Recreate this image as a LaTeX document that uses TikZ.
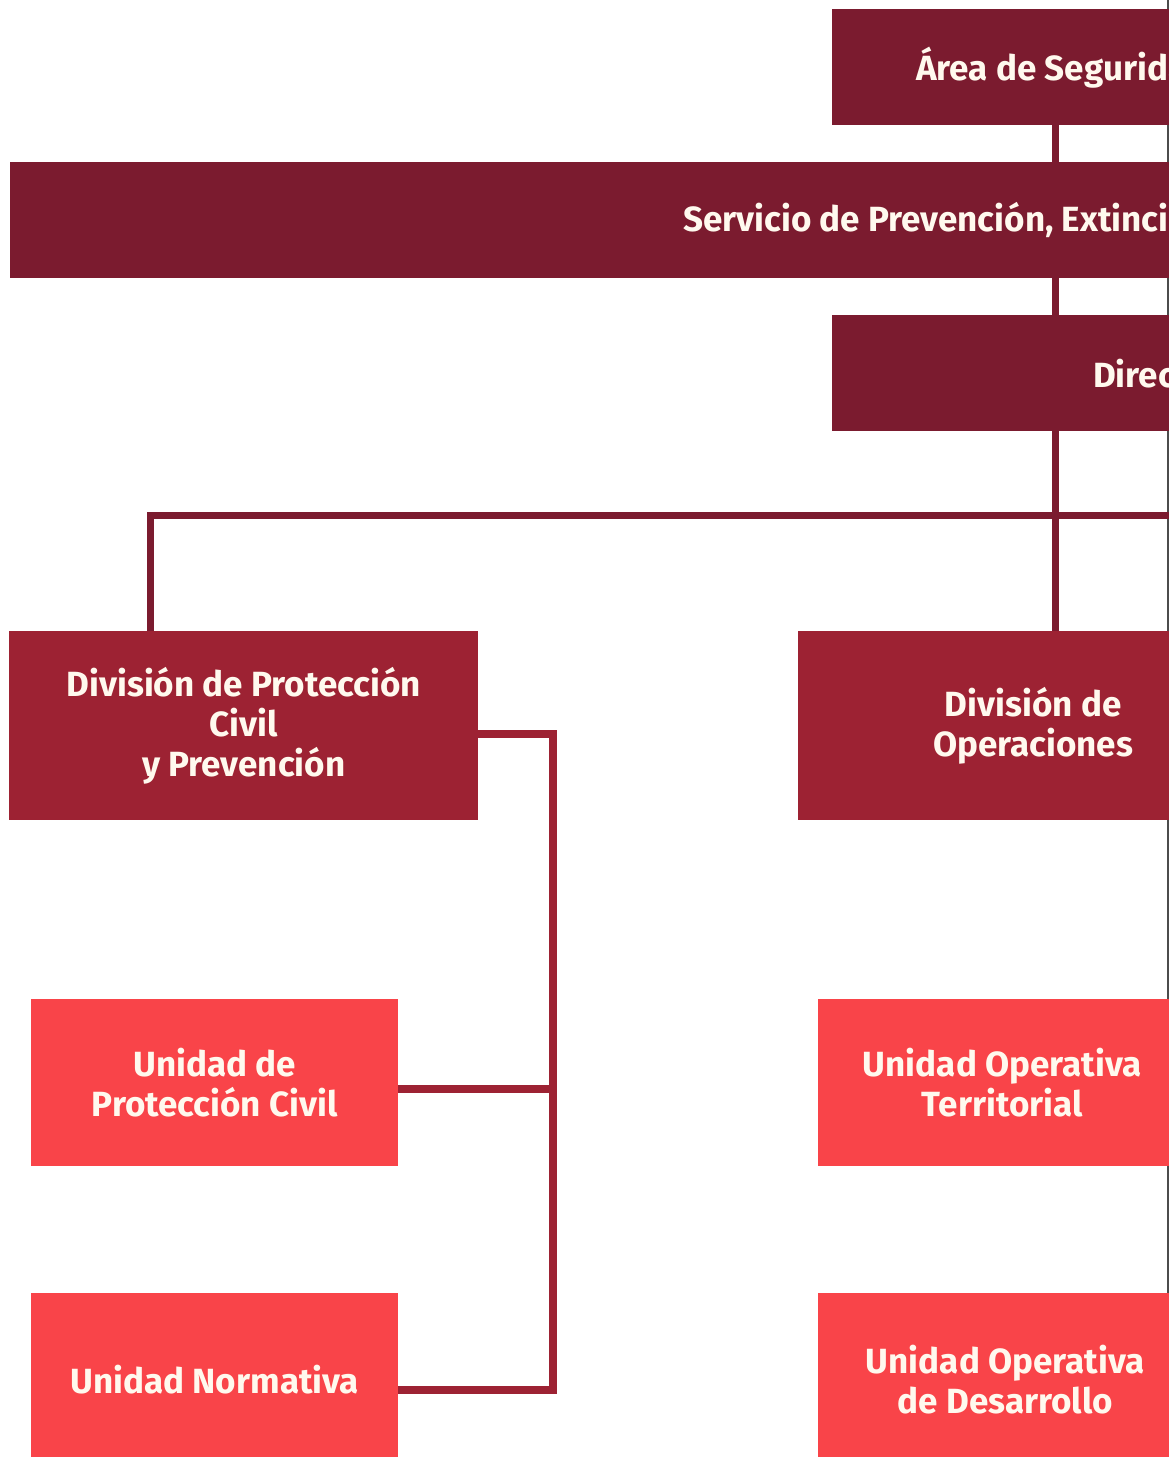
\documentclass[tikz,border=0pt]{standalone}
\usepackage{fontspec}
\setmainfont{Fira Sans}
\usetikzlibrary{positioning}
\definecolor{wine}{HTML}{7B1B2F}
\definecolor{claret}{HTML}{9D2233}
\definecolor{coral}{HTML}{F94449}
\definecolor{cream}{HTML}{FFF9EE}
\tikzset{
  box/.style={rectangle, anchor=north west, inner ysep=0pt, text=cream,
              font=\bfseries\fontsize{35}{40}\selectfont, align=center},
  topbox/.style={box, fill=wine, minimum height=116},
  divbox/.style={box, fill=claret, minimum width=469, minimum height=189},
  unitbox/.style={box, fill=coral, minimum width=367},
  link/.style={draw=wine, line width=7pt},
  sublink/.style={draw=claret, line width=8pt}
}
\begin{document}
\begin{tikzpicture}[x=1pt, y=-1pt]
      \useasboundingbox (0, 0) rectangle (1169, 1457);
      \clip (0, 0) rectangle (1169, 1457);
      \draw [gray!60!black, line width=1.5pt] (1167.8, 0) -- (1167.8, 1457);
      % top of the chart
      \node (area) [topbox, inner xsep=84]  at (832, 9)   {Área de Seguridad};
      \node (serv) [topbox, inner xsep=673] at (10, 162)  {Servicio de Prevención, Extinción};
      \node (dir)  [topbox, inner xsep=261] at (832, 315) {Dirección};
      % divisions
      \node (divpc) [divbox] at (9, 631)   {División de Protección\\Civil\\y Prevención};
      \node (divop) [divbox, minimum width=470] at (798, 631) {División de\\Operaciones};
      % units
      \node (upc)   [unitbox, minimum height=167] at (31, 999)   {Unidad de\\Protección Civil};
      \node (unorm) [unitbox, minimum height=172] at (31, 1293)  {Unidad Normativa};
      \node (uot)   [unitbox, minimum width=368, minimum height=167] at (818, 999)  {Unidad Operativa\\Territorial};
      \node (uod)   [unitbox, minimum width=374, minimum height=172] at (818, 1293) {Unidad Operativa\\de Desarrollo};
      % connectors
      \coordinate (trunk) at (1055.5, 515);
      \coordinate (pcdrop) at (150.5, 515);
      \coordinate (busend) at (1180, 515);
      \draw [link] (trunk |- area.south) -- (trunk |- serv.north)
                   (trunk |- serv.south) -- (trunk |- dir.north)
                   (trunk |- dir.south) -- (trunk |- divop.north);
      \draw [link] (pcdrop |- divpc.north) -- (pcdrop) -- (busend);
      \coordinate (spine) at (553, 734);
      \draw [sublink] (divpc.east |- spine) -- (spine) -- (spine |- 0, 1390)
                      -- (unorm.east |- 0, 1390);
      \draw [sublink] (upc.east |- 0, 1089) -- (spine |- 0, 1089);
\end{tikzpicture}
\end{document}
